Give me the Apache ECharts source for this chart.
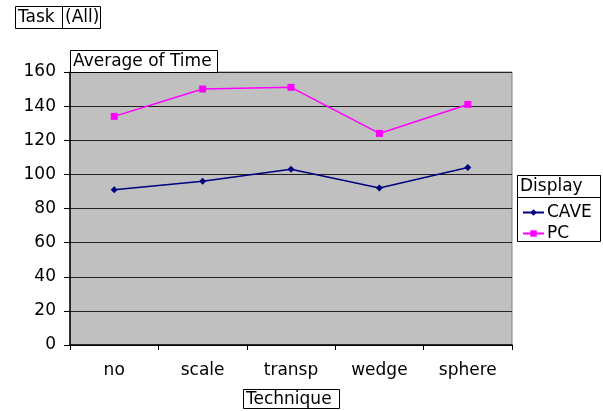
<!DOCTYPE html>
<html>
<head>
<meta charset="utf-8">
<script src="https://cdn.jsdelivr.net/npm/echarts@6/dist/echarts.min.js"></script>
<style>
  html, body { margin: 0; padding: 0; background: #fff; }
  #chart { width: 603px; height: 411px; }
</style>
</head>
<body>
<div id="chart"></div>
<script>
// Average time per technique, split by display type
const techniques = ['no', 'scale', 'transp', 'wedge', 'sphere'];
const caveTimes = [91, 96, 103, 92, 104];
const pcTimes = [134, 150, 151, 124, 141];
const yTicks = { min: 0, max: 160, interval: 20 };

const FONT = '"DejaVu Sans", Verdana, sans-serif';
const FS = 17;
const chart = echarts.init(document.getElementById('chart'), null, { renderer: 'canvas' });

// Boxed caption helper (white box, black border, text inside)
function box(x, y, w, h, label, fontSize) {
  return {
    type: 'group',
    children: [
      { type: 'rect', shape: { x: x + 0.5, y: y + 0.5, width: w, height: h },
        style: { fill: '#fff', stroke: '#000', lineWidth: 1 }, z: 10 },
      { type: 'text', x: x + 3, y: y + h / 2 + 1,
        style: { text: label, font: fontSize + 'px ' + FONT, fill: '#000', textVerticalAlign: 'middle' }, z: 11 }
    ]
  };
}

chart.setOption({
  animation: false,
  grid: {
    left: 70, top: 72, width: 442, height: 273,
    show: true, backgroundColor: '#c0c0c0', borderColor: '#808080', borderWidth: 1
  },
  xAxis: {
    type: 'category',
    data: techniques,
    boundaryGap: true,
    axisLine: { lineStyle: { color: '#000', width: 1.5 } },
    axisTick: { show: true, length: 5, lineStyle: { color: '#000' } },
    axisLabel: { color: '#000', fontSize: FS, fontFamily: FONT, margin: 17 },
    splitLine: { show: false }
  },
  yAxis: {
    type: 'value',
    min: yTicks.min, max: yTicks.max, interval: yTicks.interval,
    axisLine: { show: true, lineStyle: { color: '#000', width: 1.5 } },
    axisTick: { show: true, length: 6, lineStyle: { color: '#000' } },
    axisLabel: { color: '#000', fontSize: FS, fontFamily: FONT, margin: 14 },
    splitLine: { show: true, lineStyle: { color: '#222', width: 1 } }
  },
  legend: {
    orient: 'vertical',
    left: 517, top: 199,
    itemWidth: 21, itemHeight: 8, itemGap: 4,
    textStyle: { color: '#000', fontSize: FS, fontFamily: FONT, padding: [0, 0, 0, -2] },
    data: ['CAVE', 'PC']
  },
  series: [
    {
      name: 'CAVE', type: 'line', data: caveTimes,
      symbol: 'diamond', symbolSize: 7,
      lineStyle: { color: '#000080', width: 1.5 },
      itemStyle: { color: '#000080' }
    },
    {
      name: 'PC', type: 'line', data: pcTimes,
      symbol: 'rect', symbolSize: 7,
      lineStyle: { color: '#ff00ff', width: 1.5 },
      itemStyle: { color: '#ff00ff' }
    }
  ],
  graphic: [
    // page field "Task (All)"
    box(15, 6, 47, 22, 'Task', FS),
    box(62, 6, 38, 22, '(All)', FS),
    // data field caption
    box(70, 50, 147, 22, 'Average of Time', FS),
    // category field caption
    box(243, 389, 96, 19, 'Technique', FS),
    // legend frame with series field header
    { type: 'rect', shape: { x: 517.5, y: 175.5, width: 83, height: 66 },
      style: { fill: 'none', stroke: '#000', lineWidth: 1 }, z: 10 },
    box(517, 175, 83, 22, 'Display', FS)
  ]
});
</script>
</body>
</html>
